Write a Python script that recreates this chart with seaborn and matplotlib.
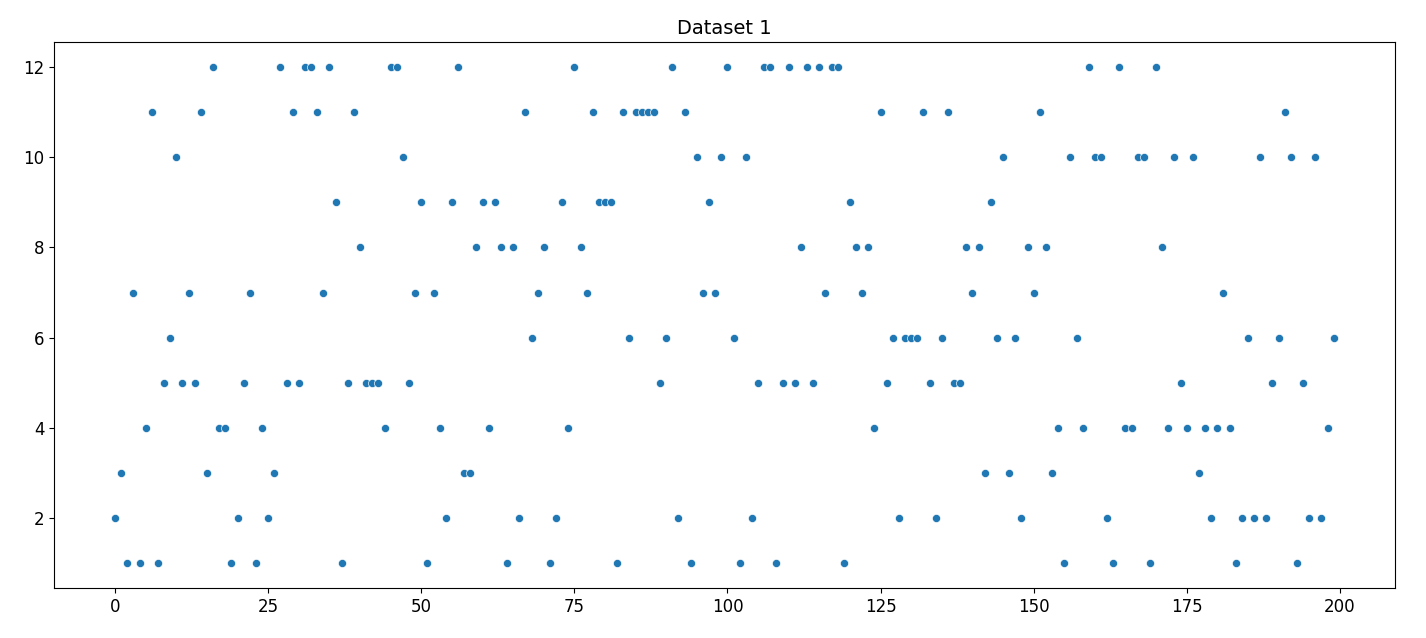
import matplotlib
matplotlib.use("Agg")
import matplotlib.pyplot as plt
import seaborn as sns
import pandas as pd

# =========================================
# DATA
# =========================================
index_values = list(range(200))

dataset_1 = [
    2, 3, 1, 7, 1, 4, 11, 1, 5, 6,
    10, 5, 7, 5, 11, 3, 12, 4, 4, 1,
    2, 5, 7, 1, 4, 2, 3, 12, 5, 11,
    5, 12, 12, 11, 7, 12, 9, 1, 5, 11,
    8, 5, 5, 5, 4, 12, 12, 10, 5, 7,
    9, 1, 7, 4, 2, 9, 12, 3, 3, 8,
    9, 4, 9, 8, 1, 8, 2, 11, 6, 7,
    8, 1, 2, 9, 4, 12, 8, 7, 11, 9,
    9, 9, 1, 11, 6, 11, 11, 11, 11, 5,
    6, 12, 2, 11, 1, 10, 7, 9, 7, 10,
    12, 6, 1, 10, 2, 5, 12, 12, 1, 5,
    12, 5, 8, 12, 5, 12, 7, 12, 12, 1,
    9, 8, 7, 8, 4, 11, 5, 6, 2, 6,
    6, 6, 11, 5, 2, 6, 11, 5, 5, 8,
    7, 8, 3, 9, 6, 10, 3, 6, 2, 8,
    7, 11, 8, 3, 4, 1, 10, 6, 4, 12,
    10, 10, 2, 1, 12, 4, 4, 10, 10, 1,
    12, 8, 4, 10, 5, 4, 10, 3, 4, 2,
    4, 7, 4, 1, 2, 6, 2, 10, 2, 5,
    6, 11, 10, 1, 5, 2, 10, 2, 4, 6,
]

df = pd.DataFrame({"x": index_values, "y": dataset_1})

# =========================================
# PLOT
# =========================================
plt.rcParams["font.family"] = ["DejaVu Sans"]
plt.rcParams["font.size"] = 12

fig, ax = plt.subplots(figsize=(14.26, 6.38), dpi=100)
sns.scatterplot(data=df, x="x", y="y", ax=ax, s=34, color="#1f77b4")

ax.set_title("Dataset 1", fontsize=14)
ax.set_xlabel("")
ax.set_ylabel("")
ax.set_xticks([0, 25, 50, 75, 100, 125, 150, 175, 200])
ax.set_yticks([2, 4, 6, 8, 10, 12])
ax.set_xlim(-9.95, 208.95)
ax.set_ylim(0.45, 12.55)

plt.subplots_adjust(left=0.038, right=0.978, top=0.934, bottom=0.078)
plt.savefig("out.png", dpi=100)
